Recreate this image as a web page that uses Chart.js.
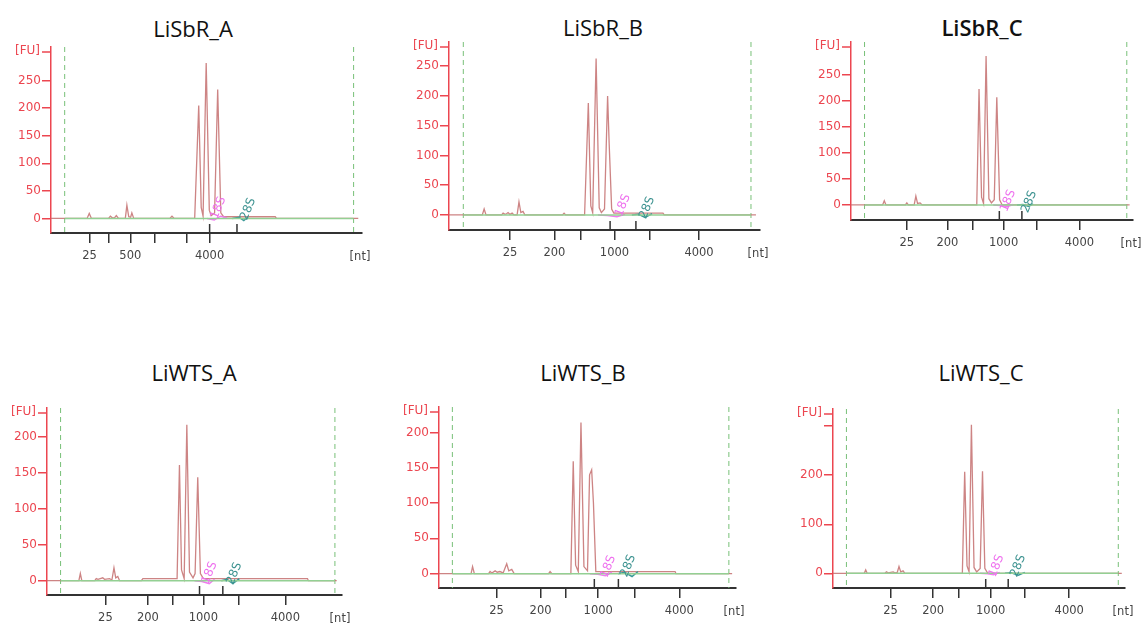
<!DOCTYPE html>
<html>
<head>
<meta charset="utf-8">
<script src="https://cdn.jsdelivr.net/npm/chart.js@4.4.1/dist/chart.umd.min.js"></script>
<style>
  body { margin: 0; background: #fff; width: 1143px; height: 626px; position: relative; overflow: hidden; font-family: "Open Sans", sans-serif; }
  .title { position: absolute; font-size: 22px; color: #111; transform: translate(-50%, -50%); white-space: nowrap; }
  canvas { position: absolute; }
</style>
</head>
<body>
<script>
// x = run position (0 = y axis, 100 = end of x axis), y = fluorescence [FU]
const sbrA_x = [0, 11.6, 12.3, 13.0, 18.5, 19.1, 19.7, 20.4, 21.0, 21.7, 23.9, 24.4, 25.0, 25.6, 26.0, 26.6, 38.2, 38.9, 39.6, 46.2, 47.5, 48.3, 48.9, 49.9, 50.9, 51.5, 52.6, 53.6, 54.6, 55.5, 72.1, 72.5, 98.8];
const sbrA_y = [0, 0, 9, 0, 0, 4, 1, 1, 5, 0, 0, 24, 3, 2, 10, 0, 0, 4, 0, 0, 205, 20, 4, 282, 15, 5, 10, 234, 10, 3, 3, 0, 0];
const sbrB_x = [0, 10.7, 11.3, 11.9, 16.9, 17.4, 18.0, 18.5, 19.0, 19.6, 20.3, 20.9, 21.9, 22.5, 23.1, 23.8, 24.4, 36.5, 37.0, 37.5, 43.6, 44.8, 45.6, 46.2, 47.3, 48.3, 49.0, 50.0, 51.0, 51.5, 52.3, 53.0, 68.8, 69.2, 98.7];
const sbrB_y = [0, 0, 10, 0, 0, 3, 1, 2, 4, 1, 3, 0, 0, 22, 4, 6, 0, 0, 3, 0, 0, 188, 15, 4, 263, 12, 4, 10, 200, 120, 10, 3, 3, 0, 0];
const sbrC_x = [0, 11.2, 11.8, 12.4, 19.3, 19.8, 20.3, 22.4, 23.0, 23.6, 24.5, 25.2, 44.6, 45.4, 46.3, 47.0, 47.9, 48.9, 49.8, 50.8, 51.7, 52.7, 53.6, 98.8];
const sbrC_y = [0, 0, 8, 0, 0, 4, 0, 0, 17, 3, 4, 0, 0, 222, 15, 3, 285, 12, 4, 10, 206, 10, 0, 0];
const wtsA_x = [0, 10.8, 11.3, 11.8, 16.2, 16.7, 17.3, 18.9, 19.5, 21.2, 22.0, 22.7, 23.3, 24.0, 24.6, 32.0, 32.5, 44.1, 44.9, 45.6, 46.5, 47.4, 48.3, 49.5, 50.2, 51.1, 52.0, 53.0, 88.3, 88.6, 98.2];
const wtsA_y = [0, 0, 10, 0, 0, 3, 2, 4, 2, 3, 1, 18, 4, 6, 0, 0, 3, 3, 161, 15, 3, 217, 12, 4, 10, 144, 10, 3, 3, 0, 0];
const wtsB_x = [0, 10.8, 11.3, 11.9, 16.7, 17.2, 17.8, 18.9, 19.6, 20.5, 21.6, 22.8, 23.5, 24.5, 25.3, 36.9, 37.4, 38.0, 44.4, 45.2, 46.0, 46.9, 47.8, 48.8, 50.0, 50.7, 51.4, 52.0, 52.8, 79.5, 79.8, 98.7];
const wtsB_y = [0, 0, 10, 0, 0, 3, 1, 4, 2, 3, 1, 14, 4, 6, 0, 0, 3, 0, 0, 159, 12, 3, 214, 10, 4, 140, 147, 100, 3, 3, 0, 0];
const wtsC_x = [0, 10.7, 11.2, 11.7, 17.8, 18.3, 18.9, 20.6, 21.2, 22.0, 22.6, 23.2, 24.0, 24.6, 44.3, 45.1, 45.9, 46.6, 47.4, 48.3, 49.2, 50.4, 51.2, 52.0, 53.0, 98.9];
const wtsC_y = [0, 0, 7, 0, 0, 3, 1, 3, 1, 2, 14, 3, 5, 0, 0, 207, 15, 3, 303, 12, 3, 10, 208, 10, 0, 0];

// 18S / 28S marker traces
const sbrA_s18 = [[50.2, 0], [52.5, -3], [54.5, 4], [56.6, 1]];
const sbrA_s28 = [[58.3, 0], [60.5, 2], [62.0, -4], [63.4, 3]];
const sbrB_s18 = [[47.9, 0], [51.0, -1], [54.0, -3], [56.6, 1]];
const sbrB_s28 = [[58.8, 0], [61.0, 1], [63.0, -4], [65.3, 2]];
const sbrC_s18 = [[50.4, 0], [53.0, -1], [55.5, -3], [57.5, 1]];
const sbrC_s28 = [[58.9, 0], [61.0, 1], [63.0, -3], [64.6, 2]];
const wtsA_s18 = [[50.0, 0], [52.5, -1], [55.0, -4], [56.8, 2]];
const wtsA_s28 = [[59.1, 0], [61.0, 2], [63.0, -4], [65.2, 3]];
const wtsB_s18 = [[50.8, 0], [53.5, -1], [56.0, -3], [58.2, 2]];
const wtsB_s28 = [[60.3, 0], [62.5, 2], [65.0, -4], [67.0, 3]];
const wtsC_s18 = [[50.3, 0], [53.0, -1], [55.0, -3], [57.1, 2]];
const wtsC_s28 = [[58.9, 0], [61.0, 1], [63.5, -4], [65.7, 2]];
// where the rotated 18S / 28S words sit
const sbrA_rrna = [[53.8, 19], [63.4, 17]];
const sbrB_rrna = [[55.9, 16], [63.7, 12]];
const sbrC_rrna = [[55.7, 8], [63.2, 6]];
const wtsA_rrna = [[55.1, 11], [63.5, 10]];
const wtsB_rrna = [[57.0, 10], [63.7, 11]];
const wtsC_rrna = [[56.0, 15], [63.4, 15]];

// size ladder ticks under the axis, and the short marker ticks above it
const sbrA_ticks = [12.4, 18.5, 25.5, 33.5, 43.7, 51.0];
const sbrA_tickLabels = ['25', '', '500', '', '', '4000'];
const sbrA_up = [51.0, 59.8];
const sbrB_ticks = [19.6, 33.9, 42.4, 53.2, 64.6, 80.4];
const sbrB_up = [51.8, 60.1];
const sbrC_ticks = [19.8, 34.2, 43.2, 54.1, 65.9, 81.0];
const sbrC_up = [52.6, 60.6];
const wtsA_ticks = [19.8, 34.2, 42.7, 53.0, 65.0, 80.8];
const wtsA_up = [51.7, 59.6];
const wtsB_ticks = [19.4, 34.2, 42.8, 53.6, 65.8, 80.9];
const wtsB_up = [52.3, 60.4];
const wtsC_ticks = [19.7, 34.3, 42.9, 54.0, 65.5, 80.9];
const wtsC_up = [52.3, 60.0];
const ladderLabels = ['25', '200', '', '1000', '', '4000'];

// lower / upper marker (green dashed)
const sbrA_markers = [4.4, 97.3];
const sbrB_markers = [4.6, 97.1];
const sbrC_markers = [4.8, 97.8];
const wtsA_markers = [4.6, 97.6];
const wtsB_markers = [4.5, 97.6];
const wtsC_markers = [4.6, 97.7];

const fuTicks250 = [0, 50, 100, 150, 200, 250];
const fuTicks200 = [0, 50, 100, 150, 200];
const fuTicks300 = [0, 100, 200, 300];
const fuLabels300 = ['0', '100', '200', ''];

const titles = ['LiSbR_A', 'LiSbR_B', 'LiSbR_C', 'LiWTS_A', 'LiWTS_B', 'LiWTS_C'];

// panel frames on the page: y-axis x, x-axis end, axis top, axis bottom
const frames = [
  [50.7, 361.7, 46.7, 232.3],
  [449, 760, 41.7, 229.3],
  [850.7, 1133, 41.7, 219.3],
  [47.3, 342.7, 408.3, 595.3],
  [439, 736, 407.3, 588.3],
  [833.3, 1125, 409.3, 588.7]
];
const titlePos = [[193, 28], [603, 27], [982, 27], [194, 372], [583, 372], [981, 372]];

const panels = [
  { x: sbrA_x, y: sbrA_y, s18: sbrA_s18, s28: sbrA_s28, rrna: sbrA_rrna, ticks: sbrA_ticks, labels: sbrA_tickLabels, up: sbrA_up, markers: sbrA_markers, yTicks: fuTicks250, yLabels: null, yMin: -26.5, yMax: 311 },
  { x: sbrB_x, y: sbrB_y, s18: sbrB_s18, s28: sbrB_s28, rrna: sbrB_rrna, ticks: sbrB_ticks, labels: ladderLabels, up: sbrB_up, markers: sbrB_markers, yTicks: fuTicks250, yLabels: null, yMin: -25.3, yMax: 290.6 },
  { x: sbrC_x, y: sbrC_y, s18: sbrC_s18, s28: sbrC_s28, rrna: sbrC_rrna, ticks: sbrC_ticks, labels: ladderLabels, up: sbrC_up, markers: sbrC_markers, yTicks: fuTicks250, yLabels: null, yMin: -28.8, yMax: 312 },
  { x: wtsA_x, y: wtsA_y, s18: wtsA_s18, s28: wtsA_s28, rrna: wtsA_rrna, ticks: wtsA_ticks, labels: ladderLabels, up: wtsA_up, markers: wtsA_markers, yTicks: fuTicks200, yLabels: null, yMin: -19.9, yMax: 240.5 },
  { x: wtsB_x, y: wtsB_y, s18: wtsB_s18, s28: wtsB_s28, rrna: wtsB_rrna, ticks: wtsB_ticks, labels: ladderLabels, up: wtsB_up, markers: wtsB_markers, yTicks: fuTicks200, yLabels: null, yMin: -20.3, yMax: 236 },
  { x: wtsC_x, y: wtsC_y, s18: wtsC_s18, s28: wtsC_s28, rrna: wtsC_rrna, ticks: wtsC_ticks, labels: ladderLabels, up: wtsC_up, markers: wtsC_markers, yTicks: fuTicks300, yLabels: fuLabels300, yMin: -29.9, yMax: 335 }
];

const RED = '#ec4650';
const AXIS_W = 50, XAXIS_H = 36, PAD_TOP = 10, PAD_RIGHT = 20;

const overlay = {
  id: 'overlay',
  beforeDatasetsDraw(chart, args, opts) {
    const { ctx, chartArea: { top, bottom }, scales: { x } } = chart;
    ctx.save();
    ctx.strokeStyle = '#78c078';
    ctx.lineWidth = 1;
    ctx.setLineDash([5, 4]);
    opts.markers.forEach((v) => {
      const px = x.getPixelForValue(v);
      ctx.beginPath();
      ctx.moveTo(px, top);
      ctx.lineTo(px, bottom);
      ctx.stroke();
    });
    ctx.restore();
  },
  afterDraw(chart, args, opts) {
    const { ctx, chartArea: { left, right, top, bottom }, scales: { x, y } } = chart;
    ctx.save();
    ctx.font = '12px "DejaVu Sans"';
    ctx.fillStyle = RED;
    ctx.textAlign = 'right';
    ctx.textBaseline = 'middle';
    ctx.fillText('[FU]', left - 11, top + 4);
    ctx.strokeStyle = RED;
    ctx.lineWidth = 1.5;
    ctx.beginPath();
    ctx.moveTo(left - 9, top + 5);
    ctx.lineTo(left, top + 5);
    ctx.stroke();

    ctx.fillStyle = '#444';
    ctx.textAlign = 'center';
    ctx.font = '11.5px "DejaVu Sans"';
    ctx.fillText('[nt]', right - 2, bottom + 24);

    ctx.strokeStyle = '#333';
    opts.up.forEach((v) => {
      const px = x.getPixelForValue(v);
      ctx.beginPath();
      ctx.moveTo(px, bottom - 9);
      ctx.lineTo(px, bottom);
      ctx.stroke();
    });

    [['18S', '#ee70ee'], ['28S', '#3c9290']].forEach(([txt, col], i) => {
      const [vx, vy] = opts.rrna[i];
      ctx.save();
      ctx.translate(x.getPixelForValue(vx), y.getPixelForValue(vy));
      ctx.rotate(-68 * Math.PI / 180);
      ctx.fillStyle = col;
      ctx.font = '12px "DejaVu Sans"';
      ctx.fillText(txt, 0, 0);
      ctx.restore();
    });
    ctx.restore();
  }
};

panels.forEach((p, i) => {
  const [L, R, T, B] = frames[i];
  const title = document.createElement('div');
  title.className = 'title';
  title.textContent = titles[i];
  title.style.left = titlePos[i][0] + 'px';
  title.style.top = titlePos[i][1] + 'px';
  if (i === 2) title.style.fontWeight = '600';
  document.body.appendChild(title);

  const w = Math.round(R - L) + AXIS_W + PAD_RIGHT;
  const h = Math.round(B - T) + PAD_TOP + XAXIS_H;
  const canvas = document.createElement('canvas');
  canvas.style.left = (L - AXIS_W) + 'px';
  canvas.style.top = (T - PAD_TOP) + 'px';
  canvas.style.width = w + 'px';
  canvas.style.height = h + 'px';
  canvas.width = w;
  canvas.height = h;
  document.body.appendChild(canvas);

  new Chart(canvas, {
    type: 'line',
    data: {
      datasets: [
        { data: [{ x: p.markers[0], y: 0 }, { x: p.markers[1], y: 0 }], borderColor: '#93d093', borderWidth: 1.5 },
        { data: p.s18.map(([a, b]) => ({ x: a, y: b })), borderColor: '#f07cf0', borderWidth: 1.5 },
        { data: p.s28.map(([a, b]) => ({ x: a, y: b })), borderColor: '#3c9a98', borderWidth: 1.5 },
        { data: p.x.map((v, k) => ({ x: v, y: p.y[k] })), borderColor: 'rgba(196,110,110,0.85)', borderWidth: 1.3 }
      ]
    },
    options: {
      responsive: false,
      animation: false,
      elements: { point: { radius: 0 }, line: { tension: 0 } },
      layout: { padding: { top: PAD_TOP, right: PAD_RIGHT, left: 0, bottom: 0 } },
      plugins: {
        legend: { display: false },
        tooltip: { enabled: false },
        overlay: { markers: p.markers, up: p.up, rrna: p.rrna }
      },
      scales: {
        x: {
          type: 'linear', min: 0, max: 100,
          afterBuildTicks: (s) => { s.ticks = p.ticks.map((v) => ({ value: v })); },
          afterFit: (s) => { s.height = XAXIS_H; },
          border: { color: '#333', width: 2 },
          grid: { drawOnChartArea: false, color: '#333', tickLength: 10, lineWidth: 1.5 },
          ticks: { color: '#444', font: { family: 'DejaVu Sans', size: 11.5 }, padding: 6, maxRotation: 0, autoSkip: false, callback: (v, k) => p.labels[k] }
        },
        y: {
          min: p.yMin, max: p.yMax,
          afterBuildTicks: (s) => { s.ticks = p.yTicks.map((v) => ({ value: v })); },
          afterFit: (s) => { s.width = AXIS_W; },
          border: { color: RED, width: 1.5 },
          grid: { drawOnChartArea: false, color: RED, tickLength: 9, lineWidth: 1.5 },
          ticks: { color: RED, font: { family: 'DejaVu Sans', size: 12 }, padding: 1, callback: (v, k) => (p.yLabels ? p.yLabels[k] : String(v)) }
        }
      }
    },
    plugins: [overlay]
  });
});
</script>
</body>
</html>
